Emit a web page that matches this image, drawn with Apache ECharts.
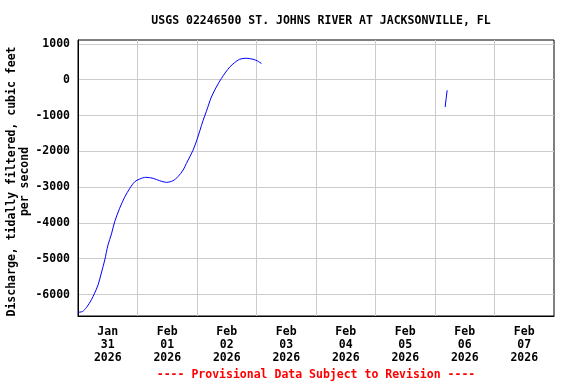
<!DOCTYPE html>
<html>
<head>
<meta charset="utf-8">
<script src="https://cdn.jsdelivr.net/npm/echarts@6/dist/echarts.min.js"></script>
<style>html,body{margin:0;padding:0;background:#fff}#c{width:576px;height:384px}</style>
</head>
<body>
<div id="c"></div>
<script>
// hours since 2026-01-31 00:00
const hoursA = [0, 1.8, 3.4, 5.4, 6.7, 8.1, 9.4, 10.8, 12.1, 13.5, 14.8, 16.8, 18.8, 20.9, 22.9, 24.9, 27.3, 30.3, 32.9, 35.7, 38.3, 40.3, 42.4, 43.7, 46.4, 48.0, 50.4, 51.8, 53.8, 55.8, 57.8, 59.6, 61.2, 63.2, 65.2, 67.9, 70.6, 72.4, 74.0];
const dischargeA = [-6495, -6475, -6363, -6148, -5962, -5730, -5404, -5033, -4615, -4308, -3965, -3591, -3284, -3033, -2849, -2773, -2726, -2754, -2821, -2866, -2821, -2710, -2523, -2340, -1969, -1671, -1150, -880, -483, -204, 31, 215, 354, 480, 572, 600, 572, 524, 452];
const hoursB = [148.1, 148.5, 148.9];
const dischargeB = [-761, -520, -296];
const dayLabels = ['Jan\n31\n2026', 'Feb\n01\n2026', 'Feb\n02\n2026', 'Feb\n03\n2026', 'Feb\n04\n2026', 'Feb\n05\n2026', 'Feb\n06\n2026', 'Feb\n07\n2026'];
const titleText = 'USGS 02246500 ST. JOHNS RIVER AT JACKSONVILLE, FL';
const yName = 'Discharge, tidally filtered, cubic feet\nper second';
const footer = '---- Provisional Data Subject to Revision ----';

const FONT = 'DejaVu Sans Mono';
const chart = echarts.init(document.getElementById('c'), null, {renderer: 'canvas'});
const segA = hoursA.map((h, i) => [h, dischargeA[i]]);
const segB = hoursB.map((h, i) => [h, dischargeB[i]]);
chart.setOption({
  animation: false,
  backgroundColor: '#fff',
  title: {
    text: titleText, left: 316, top: 10, textAlign: 'center',
    textStyle: {fontFamily: FONT, fontWeight: 'bold', fontSize: 11.5, color: '#000'}
  },
  graphic: [{
    type: 'text', x: 316, y: 375,
    style: {text: footer, align: 'center', verticalAlign: 'middle', fontFamily: FONT, fontWeight: 'bold', fontSize: 11.5, fill: '#ff0000'}
  }, {
    type: 'text', x: 18.5, y: 181.5, rotation: Math.PI / 2,
    style: {text: yName, align: 'center', verticalAlign: 'middle', lineHeight: 13, fontFamily: FONT, fontWeight: 'bold', fontSize: 11.5, fill: '#000'}
  }],
  grid: {left: 78, top: 40, width: 476, height: 276, outerBoundsMode: 'none', containLabel: false, show: true, borderColor: '#000', borderWidth: 1, backgroundColor: 'transparent'},
  xAxis: [{
    type: 'value', min: 0, max: 192, interval: 24,
    axisLine: {show: true, onZero: false, lineStyle: {color: '#000', width: 1}},
    axisTick: {show: false}, axisLabel: {show: false},
    splitLine: {show: true, showMinLine: false, showMaxLine: false, lineStyle: {color: '#cccccc', width: 1}}
  }, {
    type: 'category', data: dayLabels, position: 'bottom', boundaryGap: true,
    axisLine: {show: false, onZero: false}, axisTick: {show: false}, splitLine: {show: false},
    axisLabel: {show: true, interval: 0, margin: 10, fontFamily: FONT, fontWeight: 'bold', fontSize: 11.5, lineHeight: 13, color: '#000'}
  }],
  yAxis: {
    type: 'value', min: -6600, max: 1110, splitNumber: 8,
    axisLine: {show: true, lineStyle: {color: '#000', width: 1}},
    axisTick: {show: false},
    axisLabel: {margin: 8, showMinLabel: false, showMaxLabel: false, formatter: v => String(v), fontFamily: FONT, fontWeight: 'bold', fontSize: 11.5, color: '#000'},
    splitLine: {show: true, showMinLine: false, showMaxLine: false, lineStyle: {color: '#cccccc', width: 1}}
  },
  series: [{
    type: 'line', xAxisIndex: 0, data: segA, showSymbol: false, smooth: 0.3,
    lineStyle: {color: '#0000ff', width: 1}, z: 5
  }, {
    type: 'line', xAxisIndex: 0, data: segB, showSymbol: false,
    lineStyle: {color: '#0000ff', width: 1}, z: 5
  }]
});
</script>
</body>
</html>
